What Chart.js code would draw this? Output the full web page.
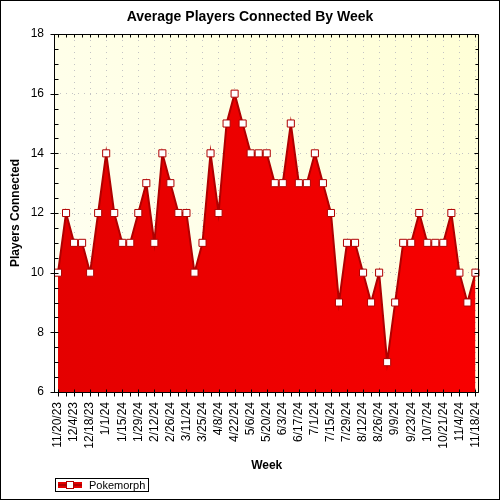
<!DOCTYPE html>
<html>
<head>
<meta charset="utf-8">
<style>
  html, body { margin: 0; padding: 0; background: #fff; }
  #chart { display: block; }
</style>
</head>
<body>
<canvas id="chart" width="500" height="500"></canvas>
<script src="https://cdn.jsdelivr.net/npm/chart.js@4.4.1/dist/chart.umd.min.js"></script>
<script>
// weekly averages, one entry per Monday
const weeks = [
    '11/20/23', '11/27/23', '12/4/23', '12/11/23', '12/18/23', '12/25/23',
    '1/1/24', '1/8/24', '1/15/24', '1/22/24', '1/29/24', '2/5/24', '2/12/24',
    '2/19/24', '2/26/24', '3/4/24', '3/11/24', '3/18/24', '3/25/24', '4/1/24',
    '4/8/24', '4/15/24', '4/22/24', '4/29/24', '5/6/24', '5/13/24', '5/20/24',
    '5/27/24', '6/3/24', '6/10/24', '6/17/24', '6/24/24', '7/1/24', '7/8/24',
    '7/15/24', '7/22/24', '7/29/24', '8/5/24', '8/12/24', '8/19/24', '8/26/24',
    '9/2/24', '9/9/24', '9/16/24', '9/23/24', '9/30/24', '10/7/24', '10/14/24',
    '10/21/24', '10/28/24', '11/4/24', '11/11/24', '11/18/24'
];
const players = [
    10, 12, 11, 11, 10, 12, 14, 12, 11, 11,
    12, 13, 11, 14, 13, 12, 12, 10, 11, 14,
    12, 15, 16, 15, 14, 14, 14, 13, 13, 15,
    13, 13, 14, 13, 12, 9, 11, 11, 10, 9,
    10, 7, 9, 11, 11, 12, 11, 11, 11, 12,
    10, 9, 10
];
const seriesName = 'Pokemorph';
const chartTitle = 'Average Players Connected By Week';
const yMin = 6, yMax = 18, yStep = 2;

const FONT = "'Liberation Sans', Arial, sans-serif";
Chart.defaults.font.family = FONT;
Chart.defaults.color = '#000';

const crisp = v => Math.round(v) + 0.5;

const frame = {
    id: 'frame',
    beforeDraw(chart) {
        const { ctx, chartArea: a } = chart;
        ctx.save();
        ctx.fillStyle = '#fff';
        ctx.fillRect(0, 0, chart.width, chart.height);
        const g = ctx.createLinearGradient(a.left, a.bottom, a.right, a.top);
        g.addColorStop(0, '#fffff6');
        g.addColorStop(1, '#ffffd6');
        ctx.fillStyle = g;
        ctx.fillRect(a.left, a.top, a.width, a.height);
        ctx.restore();
    },
    afterDraw(chart) {
        const { ctx, chartArea: a } = chart;
        const xs = chart.scales.x, ys = chart.scales.y;
        const L = crisp(a.left), R = crisp(a.right - 1), T = crisp(a.top), B = crisp(a.bottom);
        ctx.save();
        ctx.strokeStyle = '#000';
        ctx.lineWidth = 1;
        ctx.beginPath();
        ctx.rect(L, T, R - L, B - T);

        // y ticks every half unit
        for (let v = yMin; v <= yMax; v += 0.5) {
            const py = crisp(ys.getPixelForValue(v));
            const major = v % yStep === 0;
            ctx.moveTo(major ? L - 4 : L, py); ctx.lineTo(L + 4, py);
            ctx.moveTo(R - (major ? 4 : 3), py); ctx.lineTo(R, py);
        }
        // x ticks at every week
        for (let i = 0; i < weeks.length; i++) {
            const px = crisp(xs.getPixelForValue(i));
            const major = i % 2 === 0;
            ctx.moveTo(px, major ? B - 3 : B); ctx.lineTo(px, B + 4);
            ctx.moveTo(px, T); ctx.lineTo(px, T + 3);
        }
        ctx.stroke();

        // title, centred on the whole canvas
        ctx.fillStyle = '#000';
        ctx.font = 'bold 14px ' + FONT;
        ctx.textAlign = 'center';
        ctx.textBaseline = 'middle';
        ctx.fillText(chartTitle, chart.width / 2, 17.5);

        // legend
        const ds = chart.data.datasets[0];
        ctx.strokeRect(55.5, 478.5, 93, 13);
        ctx.fillStyle = '#e40000';
        ctx.fillRect(58, 482, 24, 6);
        ctx.fillStyle = '#b00000';
        ctx.fillRect(58, 484, 24, 2);
        ctx.fillStyle = '#fff';
        ctx.strokeStyle = ds.pointBorderColor;
        ctx.fillRect(67, 482, 6, 6);
        ctx.strokeRect(66.5, 481.5, 7, 7);
        ctx.fillStyle = '#000';
        ctx.font = '11px ' + FONT;
        ctx.textAlign = 'left';
        ctx.fillText(ds.label, 89, 485.5);

        // outer border
        ctx.strokeStyle = '#000';
        ctx.strokeRect(0.5, 0.5, chart.width - 1, chart.height - 1);
        ctx.restore();
    }
};

new Chart(document.getElementById('chart'), {
    type: 'line',
    data: {
        labels: weeks,
        datasets: [{
            label: seriesName,
            data: players,
            fill: 'start',
            tension: 0,
            borderColor: '#b00000',
            borderWidth: 2,
            backgroundColor: (c) => {
                const a = c.chart.chartArea;
                if (!a) return '#ee0000';
                const g = c.chart.ctx.createLinearGradient(a.left, 0, a.right, 0);
                g.addColorStop(0, '#e40000');
                g.addColorStop(1, '#f80000');
                return g;
            },
            pointStyle: 'rect',
            pointRadius: 5,
            pointBorderWidth: 1,
            pointBorderColor: '#b00000',
            pointBackgroundColor: '#fff'
        }]
    },
    options: {
        responsive: false,
        animation: false,
        devicePixelRatio: 1,
        layout: { padding: { left: 0, right: 17, top: 34, bottom: 26 } },
        plugins: {
            legend: { display: false },
            tooltip: { enabled: false },
            title: { display: false }
        },
        scales: {
            x: {
                offset: true,
                afterFit: s => { s.height = 82; },
                grid: {
                    drawTicks: false,
                    color: c => (c.index > 0 && c.index % 2 === 0) ? '#c4c4c4' : 'rgba(0,0,0,0)'
                },
                border: { display: false, dash: [1, 5] },
                ticks: {
                    autoSkip: false,
                    minRotation: 90,
                    maxRotation: 90,
                    padding: 10,
                    font: { size: 12 },
                    callback: function (val, i) {
                        return i % 2 === 0 ? this.getLabelForValue(val) : '';
                    }
                },
                title: {
                    display: true,
                    text: 'Week',
                    font: { size: 12, weight: 'bold' },
                    padding: { top: 0, bottom: 1.5 }
                }
            },
            y: {
                min: yMin,
                max: yMax,
                afterFit: s => { s.width = 54; },
                grid: {
                    drawTicks: false,
                    color: c => (c.tick && c.tick.value > yMin && c.tick.value < yMax) ? '#c4c4c4' : 'rgba(0,0,0,0)'
                },
                border: { display: false, dash: [1, 5] },
                ticks: {
                    stepSize: yStep,
                    padding: 10,
                    font: { size: 12 }
                },
                title: {
                    display: true,
                    text: 'Players Connected',
                    font: { size: 12, weight: 'bold' },
                    padding: { top: 8, bottom: 0 }
                }
            }
        }
    },
    plugins: [frame]
});
</script>
</body>
</html>
